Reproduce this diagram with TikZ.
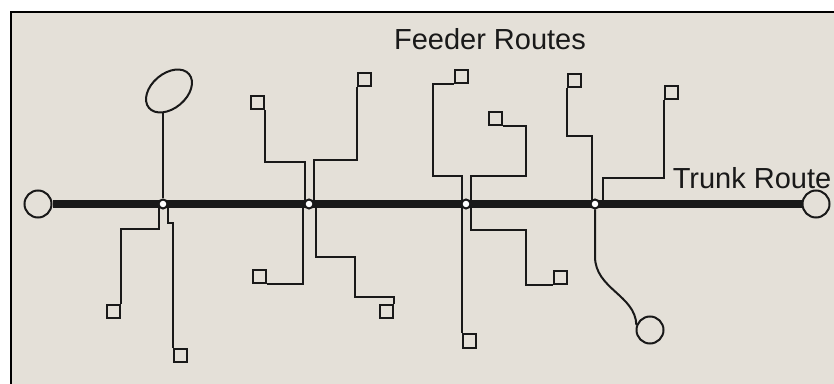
\documentclass[tikz,border=0pt]{standalone}
\usepackage{fontspec}
\setmainfont{Liberation Sans}
\usetikzlibrary{calc,shapes.geometric}
\definecolor{paper}{RGB}{228,224,216}
\definecolor{ink}{RGB}{25,25,25}
\tikzset{stop/.style = {draw=ink, line width=1pt, rectangle, minimum size=6.5pt, inner sep=0pt},
         junc/.style = {draw=ink, fill=white, line width=1pt, circle, minimum size=4.5pt, inner sep=0pt},
         term/.style = {draw=ink, line width=1pt, circle, minimum size=13.5pt, inner sep=0pt},
         ring/.style = {draw=ink, line width=1pt, ellipse, rotate=40, minimum width=26.2pt, minimum height=17.4pt, inner sep=0pt},
         feeder/.style = {draw=ink, line width=1pt},
         trunk/.style = {draw=ink, line width=3.8pt},
         lbl/.style = {inner sep=0pt, text=ink, font=\fontsize{14.5}{17}\selectfont}}

\begin{document}
\begin{tikzpicture}[x=0.5pt,y=-0.5pt]
    \useasboundingbox (0,0) rectangle (834,384);
    \fill[white] (0,0) rectangle (834,384);
    \fill[paper] (10.7,12) rectangle (834,384);
    \draw[line width=0.8pt] (834,12) -- (10.7,12) -- (10.7,384);
    % trunk route
    \node[term](c1)at(38,204){};
    \node[term](c2)at(816,204){};
    \draw[trunk](c1)--(c2);
    \node[junc](j1)at(163,204){};
    \node[junc](j2)at(309,204){};
    \node[junc](j3)at(466,204){};
    \node[junc](j4)at(595,204){};
    % stops
    \node[ring](e1)at(169,91){};
    \node[stop](s1)at(113.5,311.5){};
    \node[stop](s2)at(180.5,355){};
    \node[stop](s3)at(257,103){};
    \node[stop](s4)at(364,80){};
    \node[stop](s5)at(259,277){};
    \node[stop](s6)at(386,312){};
    \node[stop](s7)at(461,77){};
    \node[stop](s8)at(495,119){};
    \node[stop](s9)at(560,277.5){};
    \node[stop](s10)at(469.5,341){};
    \node[stop](s11)at(574,81){};
    \node[stop](s12)at(671,93){};
    \node[term](c3)at(650,330){};
    % feeders
    \draw[feeder](j1.north)--(j1.north|-e1.210);
    \draw[feeder]($(j1)+(-4,4)$)--++(0,21)-|(s1.north east);
    \draw[feeder]($(j1)+(5,4)$)--++(0,15)-|(s2.north west);
    \draw[feeder]($(j2)+(-4,-4)$)--++(0,-38)-|(s3.south east);
    \draw[feeder]($(j2)+(5,-4)$)--++(0,-40)-|(s4.south west);
    \draw[feeder]($(j2)+(-6,4)$)|-(s5.south east);
    \draw[feeder]($(j2)+(7,4)$)--++(0,49)-|++(39,40)-|(s6.north east);
    \draw[feeder]($(j3)+(-4,-4)$)--++(0,-24)--++(-29,0)|-(s7.south west);
    \draw[feeder]($(j3)+(5,-4)$)--++(0,-24)--++(55,0)|-(s8.south east);
    \draw[feeder]($(j3)+(5,4)$)--++(0,22)--++(55,0)|-(s9.south west);
    \draw[feeder]($(j3)+(-4,4)$)--(s10.north west);
    \draw[feeder]($(j4)+(-3,-4)$)--++(0,-64)-|(s11.south west);
    \draw[feeder]($(j4)+(8,-4)$)--++(0,-22)-|(s12.south west);
    \draw[feeder](j4.south)--++(0,47)
        .. controls ($(j4)+(0,85)$) and ($(c3.160)+(-1,-30)$) .. (c3.160);
    % labels
    \node[lbl](feeder)at(490,39){Feeder Routes};
    \node[lbl](trunklbl)at(752,178){Trunk Route};
\end{tikzpicture}
\end{document}
